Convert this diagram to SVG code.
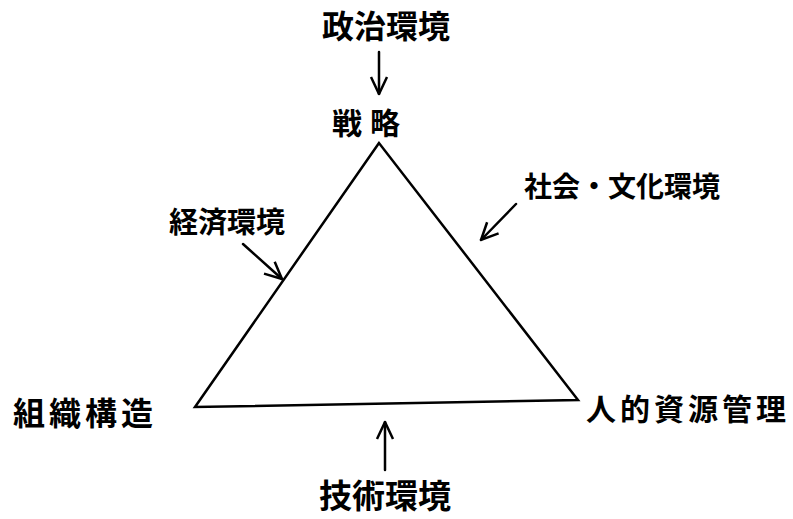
<svg xmlns="http://www.w3.org/2000/svg" width="793" height="519" viewBox="0 0 793 519">
<defs>
<style>
text{font-family:"Noto Sans CJK JP","Noto Sans CJK SC",sans-serif;fill:#000;text-anchor:middle;font-weight:bold}
.ln{stroke:#000;stroke-width:2.5;fill:none;stroke-linecap:round}
</style>
<marker id="ah" viewBox="0 0 20 20" refX="19" refY="10" markerWidth="20" markerHeight="20" markerUnits="userSpaceOnUse" orient="auto"><path d="M2,2 L19,10 L2,18" fill="none" stroke="#000" stroke-width="2.5"/></marker>
</defs>
<rect width="793" height="519" fill="#fff"/>
<g id="connectors">
<path class="ln" d="M379,143 L195,407 L578,400 Z"/>
<line class="ln" x1="379" y1="52" x2="379" y2="94" marker-end="url(#ah)"/>
<line class="ln" x1="385" y1="470" x2="385" y2="422" marker-end="url(#ah)"/>
<line class="ln" x1="243" y1="244" x2="282" y2="279" marker-end="url(#ah)"/>
<line class="ln" x1="516" y1="204" x2="481" y2="240" marker-end="url(#ah)"/>
</g>
<g id="political"><text x="386" y="38" font-size="32">政治環境</text></g>
<g id="strategy"><text x="370" y="134" font-size="30" letter-spacing="8">戦略</text></g>
<g id="social"><text x="622" y="197" font-size="28">社会・文化環境</text></g>
<g id="economic"><text x="227" y="233" font-size="29">経済環境</text></g>
<g id="organization"><text x="85" y="425" font-size="32" letter-spacing="4">組織構造</text></g>
<g id="hrm"><text x="688" y="420" font-size="30" letter-spacing="4">人的資源管理</text></g>
<g id="technology"><text x="385" y="508" font-size="33">技術環境</text></g>
</svg>
